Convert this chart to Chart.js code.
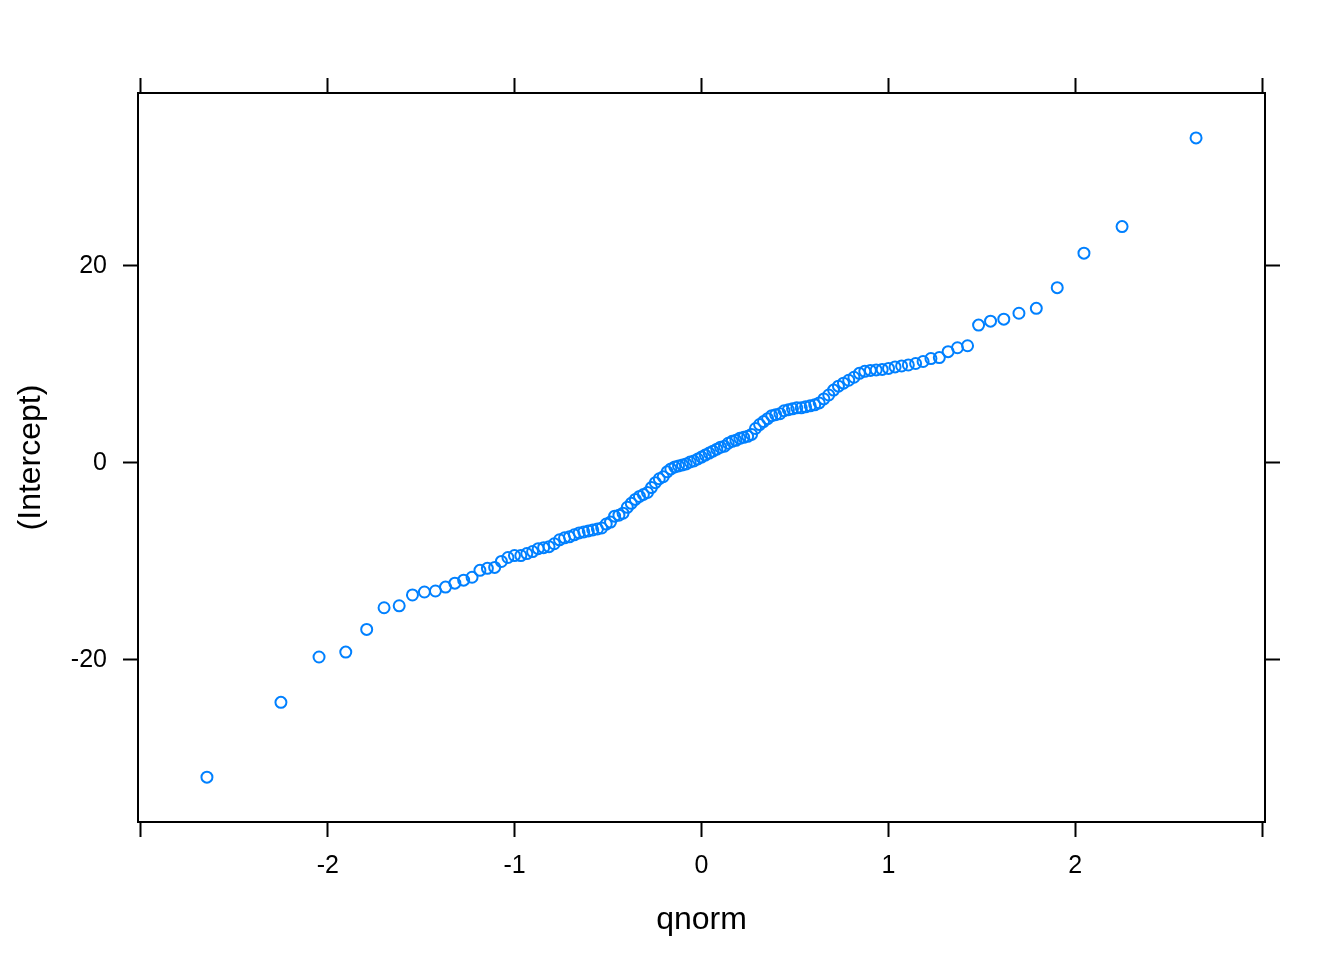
<!DOCTYPE html>
<html lang="en">
<head>
    <meta charset="UTF-8">
    <title>qqmath (Intercept)</title>
    <style>
        body {
            margin: 0;
            padding: 0;
            background: #fff;
        }
        #chart-box {
            width: 1344px;
            height: 960px;
        }
    </style>
    <script src="https://cdn.jsdelivr.net/npm/chart.js"></script>
</head>
<body>
    <div id="chart-box">
        <canvas id="qqChart" width="1344" height="960"></canvas>
    </div>
    <script>
        // theoretical normal quantiles (x) and sample values (y), 123 points
        var qnormValues = [
            -2.647, -2.251, -2.047, -1.904, -1.792, -1.699, -1.618, -1.547, -1.483, -1.424,
            -1.370, -1.320, -1.273, -1.228, -1.186, -1.146, -1.107, -1.071, -1.036, -1.001,
            -0.967, -0.935, -0.904, -0.874, -0.845, -0.816, -0.788, -0.760, -0.733, -0.707,
            -0.681, -0.655, -0.630, -0.606, -0.582, -0.557, -0.534, -0.510, -0.487, -0.465,
            -0.442, -0.420, -0.397, -0.376, -0.354, -0.332, -0.311, -0.289, -0.268, -0.247,
            -0.226, -0.205, -0.184, -0.164, -0.143, -0.123, -0.102, -0.082, -0.061, -0.041,
            -0.020, 0,
            0.020, 0.041, 0.061, 0.082, 0.102, 0.123, 0.143, 0.164, 0.184, 0.205,
            0.226, 0.247, 0.268, 0.289, 0.311, 0.332, 0.354, 0.376, 0.397, 0.420,
            0.442, 0.465, 0.487, 0.510, 0.534, 0.557, 0.582, 0.606, 0.630, 0.655,
            0.681, 0.707, 0.733, 0.760, 0.788, 0.816, 0.845, 0.874, 0.904, 0.935,
            0.967, 1.001, 1.036, 1.071, 1.107, 1.146, 1.186, 1.228, 1.273, 1.320,
            1.370, 1.424, 1.483, 1.547, 1.618, 1.699, 1.792, 1.904, 2.047, 2.251,
            2.647
        ];
        var interceptValues = [
            -31.9, -24.3, -19.7, -19.2, -16.9, -14.7, -14.5, -13.4, -13.1, -13.0,
            -12.6, -12.2, -11.9, -11.6, -10.9, -10.7, -10.6, -10.0, -9.6, -9.4,
            -9.4, -9.2, -9.0, -8.7, -8.6, -8.5, -8.2, -7.8, -7.6, -7.5,
            -7.3, -7.1, -7.0, -6.9, -6.8, -6.7, -6.6, -6.2, -6.0, -5.4,
            -5.3, -5.1, -4.5, -4.1, -3.7, -3.4, -3.2, -3.0, -2.5, -2.0,
            -1.6, -1.4, -0.9, -0.6, -0.4, -0.3, -0.2, -0.1, 0.1, 0.2,
            0.4, 0.6,
            0.8, 1.0, 1.2, 1.4, 1.6, 1.7, 2.0, 2.2, 2.3, 2.5,
            2.6, 2.7, 2.9, 3.5, 3.9, 4.2, 4.5, 4.8, 4.9, 5.0,
            5.3, 5.4, 5.5, 5.6, 5.6, 5.7, 5.8, 5.9, 6.1, 6.5,
            6.9, 7.4, 7.8, 8.1, 8.4, 8.7, 9.1, 9.3, 9.4, 9.45,
            9.5, 9.6, 9.75, 9.85, 9.95, 10.1, 10.3, 10.6, 10.7, 11.3,
            11.7, 11.9, 14.0, 14.4, 14.6, 15.2, 15.7, 17.8, 21.3, 24.0,
            33.0
        ];
        var xTicks = [-3, -2, -1, 0, 1, 2, 3];
        var xTickLabels = ['', '-2', '-1', '0', '1', '2', ''];
        var yTicks = [-20, 0, 20];
        var yTickLabels = ['-20', '0', '20'];

        var xRange = [-3.016, 3.016];
        var yRange = [-36.45, 37.56];

        var points = qnormValues.map(function (q, i) {
            return { x: q, y: interceptValues[i] };
        });

        var tickFont = { family: 'Liberation Sans, Arial, sans-serif', size: 25 };
        var titleFont = { family: 'Liberation Sans, Arial, sans-serif', size: 32 };

        function gridOpts() {
            return {
                display: true,
                drawOnChartArea: false,
                drawTicks: true,
                tickLength: 15,
                tickColor: '#000',
                tickWidth: 2
            };
        }
        var frame = { display: true, color: '#000', width: 2 };

        function setTicks(values) {
            return function (scale) {
                scale.ticks = values.map(function (v) { return { value: v }; });
            };
        }

        new Chart(document.getElementById('qqChart').getContext('2d'), {
            type: 'scatter',
            data: {
                datasets: [{
                    label: '(Intercept)',
                    data: points,
                    xAxisID: 'x',
                    yAxisID: 'y',
                    pointStyle: 'circle',
                    pointRadius: 5.5,
                    pointHoverRadius: 5.5,
                    borderColor: '#0080ff',
                    backgroundColor: 'rgba(0,0,0,0)',
                    borderWidth: 2
                }]
            },
            options: {
                responsive: false,
                animation: false,
                events: [],
                layout: { padding: 0 },
                plugins: {
                    legend: { display: false },
                    tooltip: { enabled: false }
                },
                scales: {
                    x: {
                        type: 'linear',
                        position: 'bottom',
                        min: xRange[0],
                        max: xRange[1],
                        afterBuildTicks: setTicks(xTicks),
                        afterFit: function (s) { s.height = 138; },
                        ticks: {
                            color: '#000',
                            font: tickFont,
                            padding: 14,
                            maxRotation: 0,
                            autoSkip: false,
                            callback: function (v) { return xTickLabels[xTicks.indexOf(v)]; }
                        },
                        grid: gridOpts(),
                        border: frame,
                        title: {
                            display: true,
                            text: 'qnorm',
                            color: '#000',
                            font: titleFont,
                            padding: { top: 0, bottom: 21 }
                        }
                    },
                    xTop: {
                        type: 'linear',
                        position: 'top',
                        min: xRange[0],
                        max: xRange[1],
                        afterBuildTicks: setTicks(xTicks),
                        afterFit: function (s) { s.height = 93; },
                        ticks: { display: false },
                        grid: gridOpts(),
                        border: frame
                    },
                    y: {
                        type: 'linear',
                        position: 'left',
                        min: yRange[0],
                        max: yRange[1],
                        afterBuildTicks: setTicks(yTicks),
                        afterFit: function (s) { s.width = 138; },
                        ticks: {
                            color: '#000',
                            font: tickFont,
                            padding: 16,
                            autoSkip: false,
                            callback: function (v) { return yTickLabels[yTicks.indexOf(v)]; }
                        },
                        grid: gridOpts(),
                        border: frame,
                        title: {
                            display: true,
                            text: '(Intercept)',
                            color: '#000',
                            font: titleFont,
                            padding: { top: 12, bottom: 0 }
                        }
                    },
                    yRight: {
                        type: 'linear',
                        position: 'right',
                        min: yRange[0],
                        max: yRange[1],
                        afterBuildTicks: setTicks(yTicks),
                        afterFit: function (s) { s.width = 79; },
                        ticks: { display: false },
                        grid: gridOpts(),
                        border: frame
                    }
                }
            }
        });
    </script>
</body>
</html>
